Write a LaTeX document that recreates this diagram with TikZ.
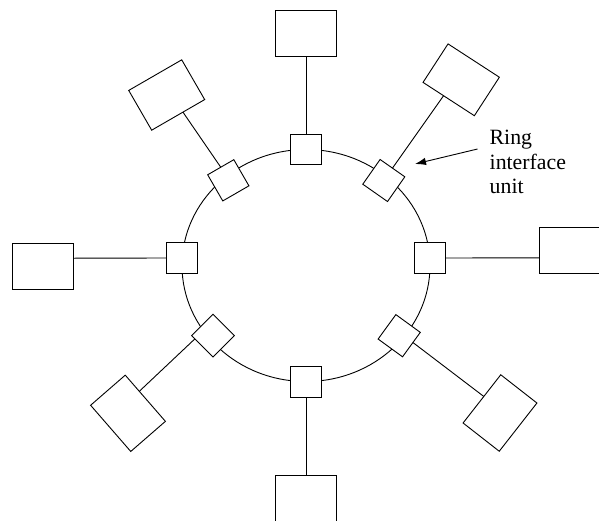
\documentclass[tikz,border=0pt]{standalone}
\usepackage{fontspec}
\setmainfont{Liberation Serif}
\usetikzlibrary{calc,arrows.meta}
\tikzset{
  riu/.style={draw, fill=white, line width=0.9pt, minimum size=30.2pt, inner sep=0pt, outer sep=0pt},
  station/.style={draw, fill=white, line width=0.9pt, minimum width=61.2pt, minimum height=45.9pt, inner sep=0pt, outer sep=0pt},
  link/.style={line width=0.9pt},
  ring/.style={line width=0.9pt}
}
\begin{document}
\begin{tikzpicture}[x=1pt,y=-1pt]
\useasboundingbox (0,0) rectangle (599,520);
\clip (0,0) rectangle (599,520);
% ring
\draw[ring] (306,265.5) ellipse [x radius=124pt, y radius=116pt];
% ring interface units
\node[riu] (sT)  at (306,149.5) {};
\node[riu] (sB)  at (306,382) {};
\node[riu] (sL)  at (182,258) {};
\node[riu] (sR)  at (430,258) {};
\node[riu, rotate=30]  (sUL) at (228.3,180.3) {};
\node[riu, rotate=-35] (sUR) at (383.8,180.5) {};
\node[riu, rotate=45]  (sLL) at (213,335.7) {};
\node[riu, rotate=-36] (sLR) at (399.2,335.7) {};
% stations
\node[station] (bT) at (306,33.3) {};
\node[station] (bB) at (306,498.3) {};
\node[station] (bL) at (42.7,266) {};
\node[station] (bR) at (569.7,250) {};
\node[station, rotate=30]  (bUL) at (166.7,95) {};
\node[station, rotate=-33] (bUR) at (461.2,79.8) {};
\node[station, rotate=-49] (bLL) at (128,413.3) {};
\node[station, rotate=52]  (bLR) at (500,413) {};
% links
\draw[link] (sT.north) -- (bT.south);
\draw[link] (sB.south) -- (bB.north);
\draw[link] (sL.west) -- ($(bL.east)!0.34!(bL.north east)$);
\draw[link] (sR.east) -- ($(bR.west)!0.34!(bR.south west)$);
\draw[link] (sUL.north) -- ($(bUL.south)!0.18!(bUL.south east)$);
\draw[link] (sUR.north) -- ($(bUR.south)!0.2!(bUR.south west)$);
\draw[link] ($(sLL.west)!0.7!(sLL.north west)$) -- ($(bLL.north)!0.3!(bLL.north west)$);
\draw[link] ($(sLR.east)!0.17!(sLR.north east)$) -- ($(bLR.north)!0.1!(bLR.north east)$);
% label and arrow
\node[anchor=base west, align=left, inner sep=0pt, font=\fontsize{21.8}{24.8}\selectfont] (lbl) at (489.5,193.9) {Ring\\interface\\unit};
\coordinate (arrS) at (477.5,149);
\coordinate (arrT) at (415,164);
\draw[link, -{Latex[length=11pt,width=7.5pt]}] (arrS) -- (arrT);
\end{tikzpicture}
\end{document}
